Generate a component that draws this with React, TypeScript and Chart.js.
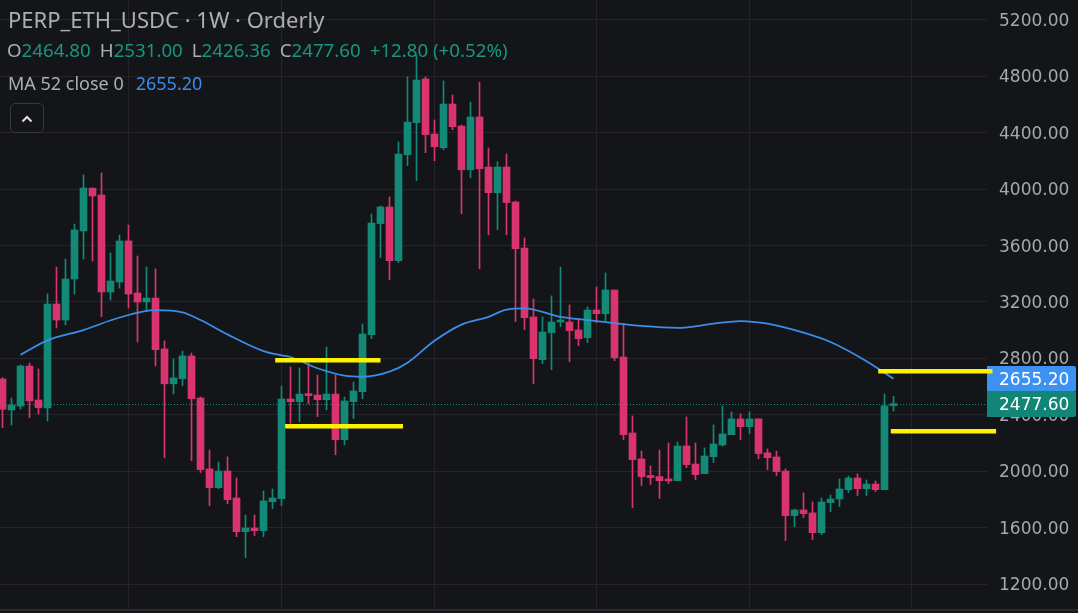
import { useEffect, useRef } from "react";
import { Chart, registerables } from "chart.js";

Chart.register(...registerables);

// ---- Weekly candles (PERP_ETH_USDC, 1W) ----
const opens = [
  2654, 2434, 2462, 2746, 2505, 2448, 3186, 3072, 3363, 3704,
  4008, 3959, 3271, 3342, 3633, 3264, 3200, 3228, 2867, 2620,
  2656, 2817, 2519, 2016, 1883, 2001, 1810, 1571, 1597, 1578,
  1784, 1805, 2512, 2493, 2547, 2540, 2507, 2547, 2223, 2493,
  2564, 2968, 3756, 3874, 3493, 4245, 4472, 4782, 4391, 4294,
  4604, 4448, 4138, 4512, 4157, 3975, 4157, 3909, 3583, 3094,
  2791, 2983, 3058, 3058, 3002, 2947, 3143, 3117, 3285, 2810,
  2271, 2087, 1969, 1962, 1940, 1933, 2179, 2051, 1983, 2103,
  2186, 2259, 2371, 2316, 2371, 2130, 2101, 2001, 1685, 1725,
  1704, 1564, 1777, 1803, 1869, 1952, 1876, 1909, 1869, 2464.8,
];
const highs = [
  2663, 2519, 2753, 2767, 2725, 3257, 3448, 3505, 3753, 4101,
  4008, 4115, 3548, 3675, 3746, 3526, 3448, 3434, 2923, 2796,
  2852, 2838, 2526, 2150, 2065, 2101, 1952, 1689, 1689, 1860,
  1874, 2604, 2739, 2732, 2767, 2682, 2881, 2682, 2526, 2633,
  3044, 3824, 3881, 3945, 4335, 4796, 4952, 4796, 4491, 4767,
  4668, 4455, 4618, 4760, 4292, 4193, 4250, 3916, 3654, 3221,
  3094, 3243, 3448, 3179, 3072, 3165, 3306, 3406, 3285, 3046,
  2392, 2143, 2037, 2150, 2200, 2207, 2385, 2200, 2165, 2328,
  2463, 2420, 2406, 2420, 2371, 2158, 2143, 2016, 1732, 1846,
  1782, 1810, 1831, 1945, 1966, 1980, 1938, 1931, 2548, 2531,
];
const lows = [
  2309, 2328, 2441, 2380, 2406, 2356, 3016, 3037, 3257, 3505,
  3491, 3096, 3214, 3299, 3157, 2916, 3136, 2746, 2095, 2549,
  2607, 2075, 1990, 1756, 1876, 1770, 1536, 1387, 1543, 1536,
  1734, 1756, 2340, 2351, 2477, 2387, 2434, 2117, 2188, 2373,
  2514, 2940, 3514, 3358, 3480, 4167, 4061, 4259, 4202, 4280,
  4422, 3826, 4082, 3436, 3677, 3713, 3677, 3061, 3004, 2621,
  2763, 2720, 3025, 2777, 2890, 2912, 3053, 3068, 2784, 2224,
  1741, 1898, 1905, 1806, 1912, 1933, 2025, 1940, 1983, 2061,
  2179, 2259, 2224, 2266, 2089, 2011, 1969, 1507, 1607, 1671,
  1515, 1550, 1713, 1749, 1848, 1827, 1827, 1855, 1869, 2426.36,
];
const closes = [
  2439, 2469, 2746, 2498, 2451, 3186, 3072, 3363, 3711, 4008,
  3952, 3271, 3349, 3633, 3257, 3200, 3228, 2862, 2620, 2661,
  2817, 2514, 2011, 1883, 2001, 1798, 1571, 1597, 1578, 1789,
  1810, 2512, 2493, 2547, 2536, 2507, 2547, 2223, 2498, 2569,
  2973, 3760, 3874, 3493, 4249, 4476, 4774, 4387, 4301, 4604,
  4443, 4138, 4512, 4145, 3975, 4157, 3905, 3578, 3089, 2798,
  2987, 3058, 3062, 2997, 2940, 3143, 3117, 3285, 2805, 2259,
  2082, 1962, 1955, 1933, 1931, 2179, 2047, 1976, 2108, 2193,
  2264, 2371, 2316, 2371, 2125, 2096, 1997, 1685, 1725, 1699,
  1564, 1782, 1803, 1874, 1952, 1876, 1909, 1869, 2463, 2477.6,
];

// ---- MA 52 (close), read at selected weeks ----
const maIndex = [
  2, 5, 9, 13, 17, 20, 22, 25, 29, 31, 32, 35, 38, 40, 43, 45,
  48, 51, 54, 56, 58, 62, 65, 71, 75, 79, 82, 85, 89, 92, 96, 99,
];
const maValues = [
  2826, 2928, 3001, 3090, 3142, 3126, 3072, 2970, 2852, 2822, 2810, 2730, 2678, 2670, 2706, 2770,
  2925, 3040, 3095, 3146, 3155, 3094, 3072, 3030, 3016, 3046, 3065, 3046, 2982, 2916, 2780, 2655.2,
];

// ---- axes ----
const priceTicks = [1200, 1600, 2000, 2400, 2800, 3200, 3600, 4000, 4400, 4800, 5200];
const timeGridWeeks = [14, 31, 48, 66, 83, 101];

// ---- user-drawn horizontal lines (week start, week end, price) ----
const drawStart = [30.3, 31.4, 97.3, 98.7];
const drawEnd = [42.0, 44.5, 110.0, 110.4];
const drawPrice = [2787, 2318, 2709, 2284];

const symbolTitle = "PERP_ETH_USDC · 1W · Orderly";
const lastOpen = "2464.80";
const lastHigh = "2531.00";
const lastLow = "2426.36";
const lastClose = 2477.6;
const changeText = "+12.80 (+0.52%)";
const maLabel = "MA 52 close 0";
const maLast = 2655.2;

const BG = "#141519";
const GRID = "#25242a";
const UP = "#128a77";
const DOWN = "#d9346f";
const MA_BLUE = "#3a8ee8";
const BOX_BLUE = "#3d91f0";
const BOX_GREEN = "#118676";
const YELLOW = "#fff200";
const AXIS_TEXT = "#a6a8ad";
const TITLE_TEXT = "#adaeb3";
const VALUE_GREEN = "#179680";

const W = 1078;
const H = 613;
const AXIS_W = 91;

export default function App() {
  const ref = useRef<HTMLCanvasElement | null>(null);

  useEffect(() => {
    const canvas = ref.current;
    if (!canvas) return;
    const n = closes.length;
    const idx = Array.from({ length: n }, (_, i) => i);
    const colorOf = (i: number) => (closes[i] >= opens[i] ? UP : DOWN);
    const xMin = -2.5 / 9;
    const xMax = xMin + (W - AXIS_W) / 9;

    const overlay = {
      id: "overlay",
      beforeDatasetsDraw(chart: any) {
        const { ctx, chartArea, scales } = chart;
        const y = scales.y;
        ctx.save();
        // bottom separator
        ctx.fillStyle = "#2a2930";
        ctx.fillRect(0, chartArea.bottom, W, 2);
        // last price dotted line
        const yl = Math.round(y.getPixelForValue(lastClose)) + 0.5;
        ctx.strokeStyle = UP;
        ctx.lineWidth = 1;
        ctx.setLineDash([1, 2]);
        ctx.beginPath();
        ctx.moveTo(chartArea.left, yl);
        ctx.lineTo(chartArea.right, yl);
        ctx.stroke();
        ctx.setLineDash([]);
        // price boxes
        const boxes = [
          { v: maLast, c: BOX_BLUE },
          { v: lastClose, c: BOX_GREEN },
        ];
        ctx.font = "17px 'DejaVu Sans'";
        ctx.textBaseline = "middle";
        ctx.textAlign = "left";
        for (const b of boxes) {
          const py = y.getPixelForValue(b.v);
          ctx.fillStyle = b.c;
          ctx.beginPath();
          (ctx as any).roundRect(chartArea.right, Math.round(py - 13), W - chartArea.right - 2, 26, [0, 2, 2, 0]);
          ctx.fill();
          ctx.fillStyle = "#ffffff";
          ctx.fillText(b.v.toFixed(2), chartArea.right + 12, py + 1.5);
        }
        ctx.restore();
      },
    };

    const lineSets = drawPrice.map((p, k) => ({
      type: "line" as const,
      data: [
        { x: drawStart[k], y: p },
        { x: drawEnd[k], y: p },
      ],
      borderColor: YELLOW,
      borderWidth: 4.5,
      pointRadius: 0,
      clip: false as any,
      order: 0,
    }));

    const chart = new Chart(canvas, {
      type: "bar",
      data: {
        datasets: [
          ...lineSets,
          {
            type: "line",
            data: maIndex.map((x, k) => ({ x, y: maValues[k] })),
            borderColor: MA_BLUE,
            borderWidth: 1.8,
            pointRadius: 0,
            cubicInterpolationMode: "monotone",
            order: 1,
          } as any,
          {
            type: "bar",
            data: idx.map((i) => ({ x: i, y: [Math.min(opens[i], closes[i]), Math.max(opens[i], closes[i])] })),
            backgroundColor: idx.map(colorOf),
            barThickness: 7,
            minBarLength: 2,
            grouped: false,
            borderWidth: 0,
            order: 2,
          } as any,
          {
            type: "bar",
            data: idx.map((i) => ({ x: i, y: [lows[i], highs[i]] })),
            backgroundColor: idx.map(colorOf),
            barThickness: 1,
            grouped: false,
            borderWidth: 0,
            order: 3,
          } as any,
        ],
      },
      options: {
        animation: false,
        responsive: false,
        maintainAspectRatio: false,
        devicePixelRatio: 1,
        layout: { padding: { left: 0, right: 0, top: 0, bottom: 4 } },
        plugins: { legend: { display: false }, tooltip: { enabled: false } },
        scales: {
          x: {
            type: "linear",
            min: xMin,
            max: xMax,
            offset: false,
            grid: { color: GRID, drawTicks: false, lineWidth: 1, offset: false },
            border: { display: false },
            ticks: { display: false },
            afterBuildTicks: (s: any) => {
              s.ticks = timeGridWeeks.map((v) => ({ value: v }));
            },
            afterFit: (s: any) => {
              s.height = 0;
              s.paddingLeft = 0;
              s.paddingRight = 0;
              s.paddingTop = 0;
              s.paddingBottom = 0;
            },
          },
          y: {
            type: "linear",
            position: "right",
            min: 1022.7,
            max: 5341.8,
            grid: { color: GRID, drawTicks: false, lineWidth: 1 },
            border: { display: false },
            afterBuildTicks: (s: any) => {
              s.ticks = priceTicks.map((v) => ({ value: v }));
            },
            afterFit: (s: any) => {
              s.width = AXIS_W;
              s.paddingTop = 0;
              s.paddingBottom = 0;
              s.paddingLeft = 0;
              s.paddingRight = 0;
            },
            ticks: {
              color: AXIS_TEXT,
              font: { family: "DejaVu Sans", size: 17 },
              padding: 12,
              labelOffset: 1.5,
              callback: (v: any) => Number(v).toFixed(2),
            },
          },
        },
      } as any,
      plugins: [overlay],
    });
    return () => chart.destroy();
  }, []);

  const rowFont = "'Noto Sans', sans-serif";
  const gray = { color: TITLE_TEXT };
  const green = { color: VALUE_GREEN };
  const gap = { marginRight: 9 };
  return (
    <div
      style={{
        position: "fixed",
        left: 0,
        top: 0,
        width: W,
        height: H,
        background: BG,
        overflow: "hidden",
        fontFamily: rowFont,
      }}
    >
      <canvas ref={ref} width={W} height={H} style={{ position: "absolute", left: 0, top: 0, width: W, height: H }} />
      <div style={{ position: "absolute", left: 8, top: 3.5, fontSize: 22, color: TITLE_TEXT, whiteSpace: "nowrap" }}>
        {symbolTitle}
      </div>
      <div style={{ position: "absolute", left: 7, top: 37, fontSize: 18.7, whiteSpace: "nowrap", display: "flex" }}>
        <span style={gap}>
          <span style={gray}>O</span>
          <span style={green}>{lastOpen}</span>
        </span>
        <span style={gap}>
          <span style={gray}>H</span>
          <span style={green}>{lastHigh}</span>
        </span>
        <span style={gap}>
          <span style={gray}>L</span>
          <span style={green}>{lastLow}</span>
        </span>
        <span style={gap}>
          <span style={gray}>C</span>
          <span style={green}>{lastClose.toFixed(2)}</span>
        </span>
        <span style={green}>{changeText}</span>
      </div>
      <div style={{ position: "absolute", left: 8, top: 70.8, fontSize: 18, whiteSpace: "nowrap", display: "flex" }}>
        <span style={{ ...gray, marginRight: 12 }}>{maLabel}</span>
        <span style={{ color: MA_BLUE }}>{maLast.toFixed(2)}</span>
      </div>
      <div
        style={{
          position: "absolute",
          left: 10,
          top: 103,
          width: 32,
          height: 28,
          border: "1px solid #38383f",
          borderRadius: 5,
        }}
      >
        <svg width={32} height={28} style={{ position: "absolute", left: 0, top: 0 }}>
          <polyline points="11.5,17.5 16,13 20.5,17.5" fill="none" stroke="#e0e0e3" strokeWidth={2} />
        </svg>
      </div>
    </div>
  );
}
